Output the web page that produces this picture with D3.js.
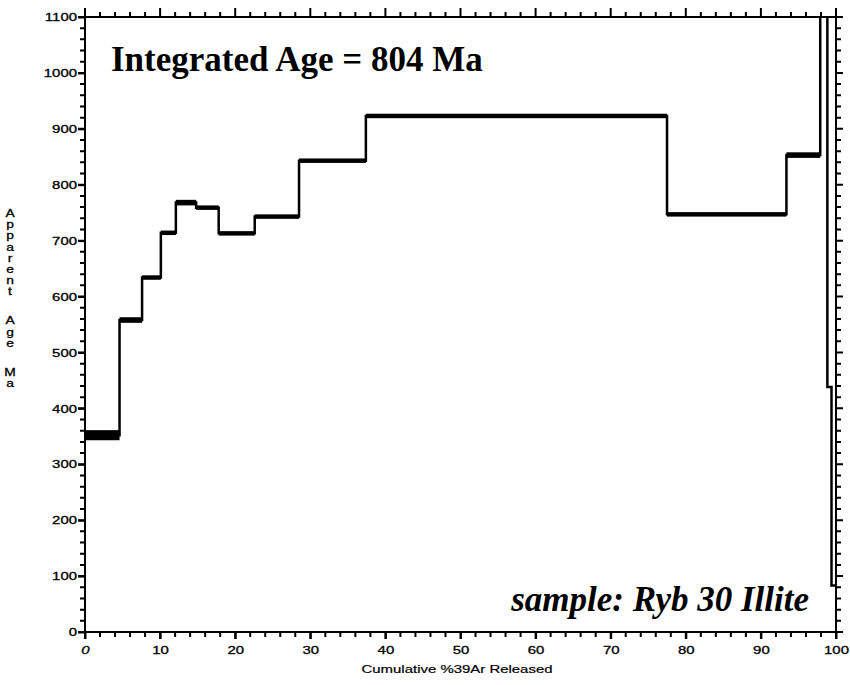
<!DOCTYPE html>
<html>
<head>
<meta charset="utf-8">
<script src="https://cdn.jsdelivr.net/npm/d3@7"></script>
<style>
	body { margin: 0; background: #fff; }
	svg { display: block; }
</style>
</head>
<body>
<div id="diagram"></div>
<script>
// step boundaries in cumulative %39Ar, one more than the ages
const stepEdges = [0, 4.6, 7.6, 10.1, 12.1, 14.8, 17.8, 22.6, 28.5, 37.4, 77.5, 93.4, 97.9, 98.85, 99.4, 100];
// apparent age of each step (Ma) and its error (Ma)
const ages = [352, 558, 634, 714, 768, 759, 713, 743, 843, 923, 747, 853, 1300, 438, 83];
const errors = [9, 5, 4, 4, 5, 4, 4, 4, 4, 4, 4, 5, 0, 0, 0];

const xMajor = d3.range(0, 101, 10);
const xMinor = d3.range(0, 101, 2);
const yMajor = d3.range(0, 1101, 100);
const yMinor = d3.range(0, 1101, 20);

const titleText = "Integrated Age = 804 Ma";
const sampleText = "sample: Ryb 30 Illite";
const xLabel = "Cumulative %39Ar Released";
const yLabel = ["Apparent", "Age", "Ma"];

const width = 850;
const height = 685;
const plotLeft = 85, plotRight = 836, plotTop = 17, plotBottom = 632;

const x = d3.scaleLinear().domain([0, 100]).range([plotLeft, plotRight]);
const y = d3.scaleLinear().domain([0, 1100]).range([plotBottom, plotTop]);

const svg = d3.select("#diagram")
	.append("svg")
	.attr("width", width)
	.attr("height", height)
	.attr("viewBox", `0 0 ${width} ${height}`);

svg.append("defs").append("clipPath")
	.attr("id", "plot")
	.append("rect")
	.attr("x", plotLeft).attr("y", plotTop)
	.attr("width", plotRight - plotLeft).attr("height", plotBottom - plotTop);

// tick marks on all four sides, pointing out, as one path
const isMajorX = d => xMajor.includes(d);
const isMajorY = d => yMajor.includes(d);

let tickPath = "";
xMinor.forEach(d => {
	const px = x(d);
	const lb = isMajorX(d) ? 7 : 5;
	const lt = isMajorX(d) ? 9 : 5;
	tickPath += `M${px},${plotBottom}V${plotBottom + lb}`;
	tickPath += `M${px},${plotTop}V${plotTop - lt}`;
});
yMinor.forEach(d => {
	const py = y(d);
	const l = isMajorY(d) ? 7 : 5;
	tickPath += `M${plotLeft},${py}H${plotLeft - l}`;
	tickPath += `M${plotRight},${py}H${plotRight + l}`;
});

svg.append("path")
	.attr("d", tickPath)
	.attr("fill", "none")
	.attr("stroke", "#000")
	.attr("stroke-width", 2);

// labelled axes
const bottomAxis = svg.append("g")
	.attr("transform", `translate(0,${plotBottom})`)
	.call(d3.axisBottom(x).tickValues(xMajor).tickSize(7).tickPadding(7).tickFormat(d3.format("d")));

const leftAxis = svg.append("g")
	.attr("transform", `translate(${plotLeft},0)`)
	.call(d3.axisLeft(y).tickValues(yMajor).tickSize(7).tickPadding(1).tickFormat(d3.format("d")));

[bottomAxis, leftAxis].forEach(g => {
	g.select(".domain").remove();
	g.selectAll(".tick line").attr("stroke", "#000").attr("stroke-width", 2);
	g.selectAll(".tick text")
		.attr("font-family", "Liberation Sans, Arial, sans-serif")
		.attr("font-size", "11.5px")
		.attr("fill", "#000")
		.attr("stroke", "#000")
		.attr("stroke-width", 0.3);
});

// the scanned sans labels look stretched sideways
bottomAxis.selectAll(".tick text")
	.attr("transform", "scale(1.3,1)")
	.attr("font-style", d => d == 0 ? "italic" : "normal");

leftAxis.selectAll(".tick text")
	.attr("x", -8 / 1.3)
	.attr("transform", "scale(1.3,1)");

// frame
svg.append("rect")
	.attr("x", plotLeft).attr("y", plotTop)
	.attr("width", plotRight - plotLeft).attr("height", plotBottom - plotTop)
	.attr("fill", "none")
	.attr("stroke", "#000")
	.attr("stroke-width", 2);

const steps = ages.map((a, i) => ({x0: stepEdges[i], x1: stepEdges[i + 1], age: a, err: errors[i]}));

const plot = svg.append("g").attr("clip-path", "url(#plot)");

// error boxes
plot.selectAll("rect.step")
	.data(steps)
	.enter()
	.append("rect")
	.attr("class", "step")
	.attr("x", d => x(d.x0))
	.attr("y", d => y(d.age + d.err))
	.attr("width", d => x(d.x1) - x(d.x0))
	.attr("height", d => y(d.age - d.err) - y(d.age + d.err))
	.attr("fill", "#000");

// step outline
const pts = [];
steps.forEach(d => {
	pts.push([d.x0, d.age]);
	pts.push([d.x1, d.age]);
});

plot.append("path")
	.datum(pts)
	.attr("d", d3.line().x(d => x(d[0])).y(d => y(d[1])))
	.attr("fill", "none")
	.attr("stroke", "#000")
	.attr("stroke-width", 2.5);

svg.append("text")
	.text(titleText)
	.attr("x", 111)
	.attr("y", 71)
	.attr("font-family", "Liberation Serif, Times New Roman, serif")
	.attr("font-weight", "bold")
	.attr("font-size", "35px");

svg.append("text")
	.text(sampleText)
	.attr("x", 809)
	.attr("y", 611)
	.attr("text-anchor", "end")
	.attr("font-family", "Liberation Serif, Times New Roman, serif")
	.attr("font-weight", "bold")
	.attr("font-style", "italic")
	.attr("font-size", "35px");

svg.append("text")
	.text(xLabel)
	.attr("transform", "translate(457,673) scale(1.3,1)")
	.attr("text-anchor", "middle")
	.attr("font-family", "Liberation Sans, Arial, sans-serif")
	.attr("font-size", "11.5px")
	.attr("stroke", "#000")
	.attr("stroke-width", 0.2);

// y label: letters stacked one under another
const letters = [];
let ly = 217;
yLabel.forEach(w => {
	w.split("").forEach(c => {
		letters.push({c: c, y: ly});
		ly += 11.2;
	});
	ly += 17.8;
});

svg.selectAll("text.ylab")
	.data(letters)
	.enter()
	.append("text")
	.attr("class", "ylab")
	.text(d => d.c)
	.attr("transform", d => `translate(10,${d.y}) scale(1.2,1)`)
	.attr("text-anchor", "middle")
	.attr("font-family", "Liberation Sans, Arial, sans-serif")
	.attr("font-size", "11.5px")
	.attr("stroke", "#000")
	.attr("stroke-width", 0.3);
</script>
</body>
</html>
